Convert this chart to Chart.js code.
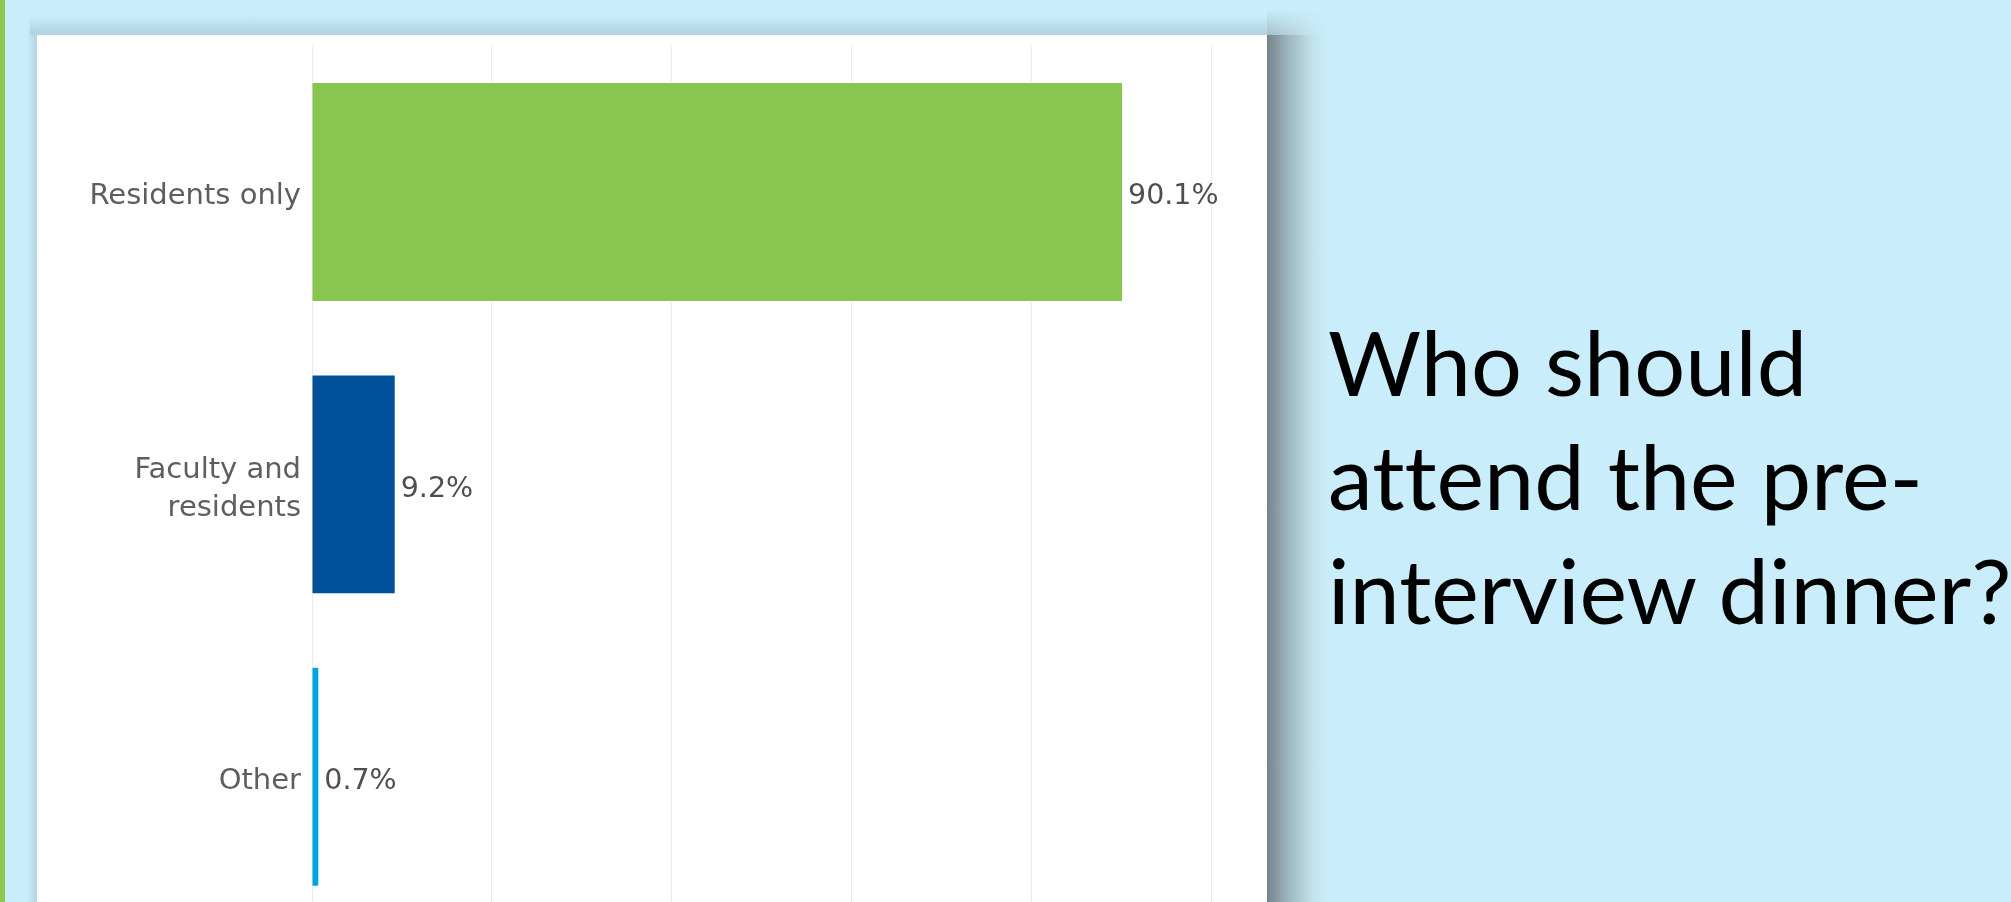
<!DOCTYPE html>
<html>
<head>
<meta charset="utf-8">
<script src="https://cdn.jsdelivr.net/npm/chart.js@4/dist/chart.umd.min.js"></script>
<style>
  html, body { margin: 0; padding: 0; }
  body { width: 2011px; height: 902px; overflow: hidden; position: relative; background: #C9EDFB; }
  #greenline { position: absolute; left: 0; top: 0; width: 5px; height: 902px; background: #8BC84B; }
  #topshadow { position: absolute; left: 30px; top: 15px; width: 1237px; height: 20px;
    background: linear-gradient(to bottom, rgba(180,214,228,0) 0%, rgba(180,214,228,0.7) 60%, rgba(176,210,224,0.95) 100%); }
  #leftshadow { position: absolute; left: 26px; top: 30px; width: 11px; height: 872px;
    background: linear-gradient(to right, rgba(180,214,228,0), rgba(176,210,224,0.9)); }
  #rightshadow { position: absolute; left: 1267px; top: 35px; width: 62px; height: 867px;
    background: linear-gradient(to right, #72838c 0%, #7f9199 9%, #8fa3ab 22%, #9fb7c0 35%, #aac5cf 48%, #b8d6e0 62%, #c3e3ee 76%, #c8ebf6 90%, #C9EDFB 100%); }
  #rightcorner { position: absolute; left: 1267px; top: 10px; width: 62px; height: 25px;
    background: linear-gradient(to right, #9fb5bd 0%, #aac3cc 20%, #b6d2dc 45%, #c3e3ee 70%, #C9EDFB 100%);
    -webkit-mask-image: linear-gradient(to bottom, rgba(0,0,0,0) 0%, rgba(0,0,0,0.85) 100%);
    mask-image: linear-gradient(to bottom, rgba(0,0,0,0) 0%, rgba(0,0,0,0.85) 100%); }
  #panel { position: absolute; left: 37px; top: 35px; width: 1230px; height: 900px; background: #ffffff; }
  #title { position: absolute; left: 1328px; top: 304px; font-family: Lato, "Open Sans", sans-serif;
    font-size: 90px; line-height: 114px; color: #000; white-space: nowrap;
    font-variant-ligatures: none; font-feature-settings: "liga" 0, "clig" 0; }
</style>
</head>
<body>
<div id="greenline"></div>
<div id="topshadow"></div>
<div id="leftshadow"></div>
<div id="rightcorner"></div>
<div id="rightshadow"></div>
<div id="panel"><canvas id="c" width="1230" height="900"></canvas></div>
<div id="title">Who should<br>attend the pre-<br>interview dinner?</div>
<script>
const categories = [["Residents only"], ["Faculty and", "residents"], ["Other"]];
const values = [90.1, 9.2, 0.7];
const valueLabels = ["90.1%", "9.2%", "0.7%"];
const barColors = ["#89C64F", "#00509A", "#00A6E1"];
const axisMin = 0;
const axisMax = 100;
const gridStep = 20;

const valueLabelPlugin = {
  id: 'valueLabels',
  afterDatasetsDraw(chart) {
    const ctx = chart.ctx;
    const meta = chart.getDatasetMeta(0);
    ctx.save();
    ctx.font = '28.5px "DejaVu Sans", sans-serif';
    ctx.fillStyle = '#4f4f4f';
    ctx.textAlign = 'left';
    ctx.textBaseline = 'middle';
    meta.data.forEach((bar, i) => {
      ctx.fillText(valueLabels[i], bar.x + 6, bar.y + 5);
    });
    ctx.restore();
  }
};

new Chart(document.getElementById('c'), {
  type: 'bar',
  data: {
    labels: categories,
    datasets: [{
      data: values,
      backgroundColor: barColors,
      borderWidth: 0,
      barPercentage: 0.745,
      categoryPercentage: 1.0
    }]
  },
  options: {
    indexAxis: 'y',
    responsive: false,
    devicePixelRatio: 1,
    animation: false,
    layout: { padding: { top: 10.75, bottom: 12, left: 0, right: 56 } },
    plugins: { legend: { display: false }, tooltip: { enabled: false } },
    scales: {
      x: {
        min: axisMin, max: axisMax,
        ticks: { display: false, stepSize: gridStep },
        grid: { color: '#ebebeb', lineWidth: 1, drawTicks: false },
        border: { display: false },
        afterFit(scale) { scale.paddingLeft = 0; scale.paddingRight = 0; }
      },
      y: {
        ticks: { padding: 11, labelOffset: 5, color: '#5e5e5e', font: { family: '"DejaVu Sans", sans-serif', size: 29, lineHeight: 1.32 } },
        grid: { display: false, drawTicks: false },
        border: { display: false },
        afterFit(scale) { scale.width = 275; scale.paddingTop = 0; scale.paddingBottom = 0; }
      }
    }
  },
  plugins: [valueLabelPlugin]
});
</script>
</body>
</html>
